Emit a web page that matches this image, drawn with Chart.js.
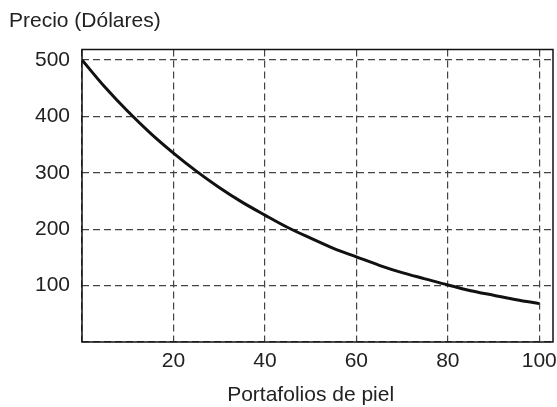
<!DOCTYPE html>
<html>
<head>
<meta charset="utf-8">
<script src="https://cdn.jsdelivr.net/npm/chart.js@4/dist/chart.umd.min.js"></script>
<style>
  html, body { margin: 0; padding: 0; background: #fff; }
  #wrap { width: 557px; height: 407px; }
</style>
</head>
<body>
<div id="wrap"><canvas id="myChart"></canvas></div>
<script>
const portafolios = [0, 5, 10, 15, 20, 25, 30, 35, 40, 45, 50, 55, 60, 65, 70, 75, 80, 85, 90, 95, 100];
const precios = [500, 452, 409, 370, 335, 303, 274, 248, 225, 203, 184, 166, 151, 136, 123, 112, 101, 91, 83, 75, 68];
const xTicks = [20, 40, 60, 80, 100];
const yTicks = [100, 200, 300, 400, 500];

const yTitle = 'Precio (Dólares)';
const xTitle = 'Portafolios de piel';

const fontFam = '"Liberation Sans", Arial, Helvetica, sans-serif';
const fontSize = 21;
const ctx = document.getElementById('myChart').getContext('2d');

const framePlugin = {
  id: 'frame',
  afterDraw(chart) {
    const a = chart.chartArea;
    const c = chart.ctx;
    c.save();
    c.strokeStyle = '#111';
    c.lineWidth = 1.5;
    c.strokeRect(a.left, a.top, a.right - a.left, a.bottom - a.top);
    // eje x: titulo centrado sobre 0-100
    const xs = chart.scales.x;
    c.fillStyle = '#222';
    c.font = fontSize + 'px ' + fontFam;
    c.textAlign = 'center';
    c.textBaseline = 'middle';
    c.fillText(xTitle, (xs.getPixelForValue(0) + xs.getPixelForValue(100)) / 2, 395);
    c.restore();
  }
};

const data = {
  datasets: [
    {
      data: portafolios.map((x, i) => ({ x: x, y: precios[i] })),
      borderColor: '#111',
      borderWidth: 3,
      pointRadius: 0,
      cubicInterpolationMode: 'monotone',
      fill: false,
    },
  ],
};

const config = {
  type: 'line',
  data: data,
  plugins: [framePlugin],
  options: {
    responsive: true,
    maintainAspectRatio: false,
    animation: false,
    layout: { padding: { left: 9, right: 4, top: 0, bottom: 0 } },
    plugins: {
      legend: { display: false },
      tooltip: { enabled: false },
      title: {
        display: true,
        text: yTitle,
        align: 'start',
        color: '#222',
        font: { family: fontFam, size: fontSize, weight: 'normal' },
        padding: { top: 8.8, bottom: 15.5 },
      },
    },
    scales: {
      x: {
        type: 'linear',
        min: 0,
        max: 103,
        afterFit: function (scale) {
          scale.height = 65;
          scale.paddingLeft = 0;
          scale.paddingRight = 0;
        },
        afterBuildTicks: function (scale) {
          scale.ticks = [{ value: 0 }].concat(xTicks.map(v => ({ value: v })));
        },
        grid: { color: '#444', lineWidth: 1.2, drawTicks: false },
        border: { display: false, dash: [7, 4] },
        ticks: {
          autoSkip: false,
          padding: 7,
          color: '#222',
          font: { family: fontFam, size: fontSize },
          callback: function (value) {
            return value === 0 ? '' : value;
          },
        },
      },
      y: {
        min: 0,
        max: 518.6,
        afterFit: function (scale) {
          scale.width = 73;
          scale.paddingTop = 0;
          scale.paddingBottom = 0;
        },
        afterBuildTicks: function (scale) {
          scale.ticks = [{ value: 0 }].concat(yTicks.map(v => ({ value: v })));
        },
        grid: { color: '#444', lineWidth: 1.2, drawTicks: false },
        border: { display: false, dash: [7, 4] },
        ticks: {
          padding: 12,
          color: '#222',
          font: { family: fontFam, size: fontSize },
          callback: function (value) {
            return value === 0 ? '' : value;
          },
        },
      },
    },
  },
};

const myChart = new Chart(ctx, config);
</script>
</body>
</html>
